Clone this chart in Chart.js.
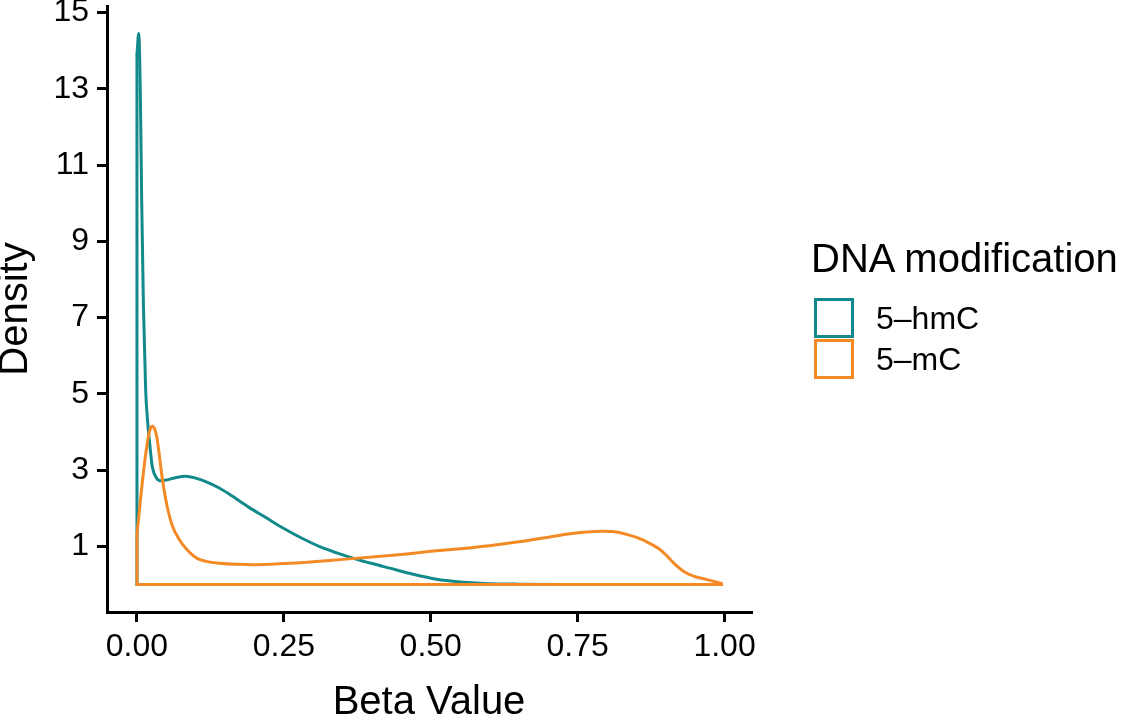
<!DOCTYPE html>
<html>
<head>
<meta charset="utf-8">
<script src="https://cdn.jsdelivr.net/npm/chart.js@4.4.1/dist/chart.umd.min.js"></script>
<style>
html,body{margin:0;padding:0;background:#fff;}
#wrap{position:relative;width:1129px;height:717px;overflow:hidden;}
#c{position:absolute;left:0;top:0;width:1129px;height:717px;}
#legend{position:absolute;left:0;top:0;width:1129px;height:717px;pointer-events:none;font-family:"Liberation Sans",Arial,Helvetica,sans-serif;color:#000;}
#legend .ttl{position:absolute;left:811px;top:238px;font-size:40px;line-height:40px;white-space:nowrap;}
#legend .box{position:absolute;left:814px;width:40px;height:40px;box-sizing:border-box;border:3px solid #000;background:#fff;}
#legend .lab{position:absolute;left:876px;font-size:32px;line-height:40px;white-space:nowrap;}
</style>
</head>
<body>
<div id="wrap">
<canvas id="c" width="1129" height="717"></canvas>
<div id="legend"></div>
</div>
<script>
// ---- data ----
const seriesNames = ['5–hmC', '5–mC'];
const seriesColors = ['#128a8b', '#f48a25'];

const hmcX = [0, 0.003, 0.006, 0.008, 0.011, 0.0148, 0.018, 0.021, 0.026, 0.033, 0.040, 0.050, 0.065, 0.083, 0.100, 0.120, 0.140, 0.160, 0.190, 0.220, 0.250, 0.280, 0.310, 0.340, 0.370, 0.400, 0.430, 0.470, 0.510, 0.550, 0.590, 0.650, 0.750, 0.850, 0.995];
const hmcY = [13.9, 14.45, 12.6, 10.1, 7.3, 5.1, 4.3, 3.8, 3.1, 2.8, 2.72, 2.74, 2.8, 2.84, 2.79, 2.68, 2.53, 2.34, 2.03, 1.75, 1.47, 1.22, 1.0, 0.83, 0.68, 0.55, 0.43, 0.27, 0.14, 0.07, 0.03, 0.01, 0.003, 0.001, 0];

const mcX = [0, 0.009, 0.0176, 0.022, 0.026, 0.030, 0.034, 0.038, 0.042, 0.046, 0.052, 0.060, 0.072, 0.083, 0.100, 0.120, 0.140, 0.170, 0.200, 0.250, 0.300, 0.350, 0.400, 0.450, 0.500, 0.550, 0.600, 0.650, 0.700, 0.730, 0.760, 0.790, 0.810, 0.835, 0.860, 0.875, 0.890, 0.900, 0.913, 0.930, 0.947, 0.970, 0.995];
const mcY = [1.3, 2.67, 3.72, 4.05, 4.15, 4.08, 3.85, 3.4, 2.9, 2.5, 2.0, 1.55, 1.18, 0.95, 0.71, 0.6, 0.56, 0.53, 0.52, 0.55, 0.6, 0.66, 0.72, 0.79, 0.87, 0.94, 1.02, 1.12, 1.24, 1.32, 1.37, 1.40, 1.39, 1.31, 1.18, 1.06, 0.92, 0.78, 0.57, 0.35, 0.22, 0.13, 0.03];

const xTicks = [0, 0.25, 0.5, 0.75, 1];
const yTicks = [1, 3, 5, 7, 9, 11, 13, 15];
const xTitle = 'Beta Value';
const yTitle = 'Density';
const legendTitle = 'DNA modification';

// ---- build ----
const FONT = '"Liberation Sans", Arial, Helvetica, sans-serif';
Chart.defaults.font.family = FONT;
Chart.defaults.color = '#000';

function curve(xs, ys) { return xs.map((x, i) => ({ x: x, y: ys[i] })); }
function outline(xs, ys) {
  const n = xs.length - 1;
  return [{ x: xs[n], y: ys[n] }, { x: xs[n], y: 0 }, { x: xs[0], y: 0 }, { x: xs[0], y: ys[0] }];
}
const series = [
  { name: seriesNames[0], color: seriesColors[0], xs: hmcX, ys: hmcY, order: 1 },
  { name: seriesNames[1], color: seriesColors[1], xs: mcX, ys: mcY, order: 0 }
];
const datasets = [];
series.forEach(s => {
  datasets.push({ label: s.name, data: curve(s.xs, s.ys), borderColor: s.color, borderWidth: 3,
    showLine: true, pointRadius: 0, fill: false, cubicInterpolationMode: 'monotone',
    borderJoinStyle: 'round', borderCapStyle: 'round', order: s.order });
  datasets.push({ label: s.name + ' outline', data: outline(s.xs, s.ys), borderColor: s.color, borderWidth: 3,
    showLine: true, pointRadius: 0, fill: false, tension: 0,
    borderJoinStyle: 'miter', borderCapStyle: 'butt', order: s.order });
});

const axisCommon = {
  grid: { display: true, drawOnChartArea: false, drawTicks: true, tickLength: 10, color: '#000', lineWidth: 3 },
  border: { display: true, color: '#000', width: 3 }
};

const htmlLegend = {
  id: 'htmlLegend',
  afterUpdate(chart) {
    const el = document.getElementById('legend');
    el.innerHTML = '';
    const t = document.createElement('div');
    t.className = 'ttl';
    t.textContent = legendTitle;
    el.appendChild(t);
    series.forEach((s, i) => {
      const top = 298 + i * 41;
      const b = document.createElement('div');
      b.className = 'box';
      b.style.top = top + 'px';
      b.style.borderColor = s.color;
      el.appendChild(b);
      const l = document.createElement('div');
      l.className = 'lab';
      l.style.top = (top) + 'px';
      l.textContent = s.name;
      el.appendChild(l);
    });
  }
};

new Chart(document.getElementById('c'), {
  type: 'scatter',
  data: { datasets: datasets },
  plugins: [htmlLegend],
  options: {
    responsive: false,
    animation: false,
    layout: { padding: { left: 0, top: 6, right: 378, bottom: 0 } },
    plugins: { legend: { display: false }, tooltip: { enabled: false } },
    scales: {
      x: Object.assign({}, axisCommon, {
        type: 'linear', min: -0.051, max: 1.045,
        afterBuildTicks: s => { s.ticks = xTicks.map(v => ({ value: v })); },
        afterFit: s => { s.height = 105; s.paddingLeft = 0; s.paddingRight = 0; },
        ticks: { callback: v => Number(v).toFixed(2), font: { size: 32 }, color: '#000', padding: 6, maxRotation: 0, autoSkip: false },
        title: { display: true, text: xTitle, color: '#000', font: { size: 40, lineHeight: 0.6 }, padding: { top: 0, bottom: 2 } }
      }),
      y: Object.assign({}, axisCommon, {
        type: 'linear', min: -0.72, max: 15.17,
        afterBuildTicks: s => { s.ticks = yTicks.map(v => ({ value: v })); },
        afterFit: s => { s.width = 107; s.paddingTop = 0; s.paddingBottom = 0; },
        ticks: { callback: v => String(v), font: { size: 32 }, color: '#000', padding: 8, autoSkip: false },
        title: { display: true, text: yTitle, color: '#000', font: { size: 40, lineHeight: 0.6 }, padding: { top: 4, bottom: 0 } }
      })
    }
  }
});
</script>
</body>
</html>
